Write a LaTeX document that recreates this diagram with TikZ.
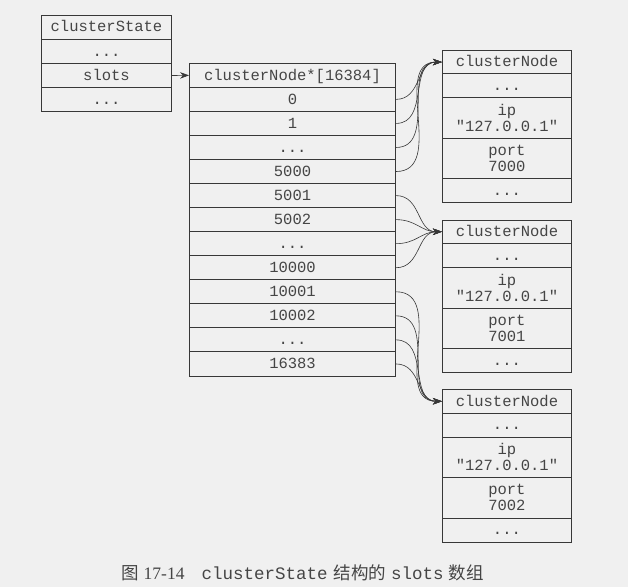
\documentclass[tikz,border=0pt]{standalone}
\usepackage{fontspec}
\setmainfont{Liberation Serif}
\setmonofont{Liberation Mono}
\newfontfamily\cjk{Noto Sans CJK SC}
\usetikzlibrary{arrows.meta}
\definecolor{bg}{HTML}{F0F0F0}
\definecolor{ink}{HTML}{383838}
\definecolor{txt}{HTML}{454545}
\newcommand\mydots{...}
\begin{document}
\begin{tikzpicture}[x=1pt,y=-1pt,
  cell/.style={draw=ink, line width=0.9pt, fill=bg, inner sep=0pt, text=txt,
    font=\ttfamily\fontsize{15.5}{16}\selectfont, align=center},
  one/.style={text height=10.8pt, text depth=1.2pt},
  st/.style={cell, one, minimum width=130pt, minimum height=24.2pt},
  arr/.style={cell, one, minimum width=206pt, minimum height=24.05pt},
  cn/.style={cell, minimum width=129.2pt},
  conn/.style={draw=ink, line width=0.6pt, -{Stealth[length=9pt,width=6.5pt]}}]
\fill[bg] (0,0) rectangle (628,587);
\useasboundingbox (0,0) rectangle (628,587);
% clusterState
\node[st] (s0) at (106.5,27.1) {clusterState};
\node[st] (s1) at (106.5,51.3) {\mydots};
\node[st] (s2) at (106.5,75.5) {slots};
\node[st] (s3) at (106.5,99.7) {\mydots};
% slots array
\foreach \i/\lab in {0/{clusterNode*[16384]},1/0,2/1,3/\mydots,4/5000,5/5001,6/5002,7/\mydots,8/10000,9/10001,10/10002,11/\mydots,12/16383}{
  \node[arr] (a\i) at (292.5,{63.3+12.025+24.05*\i}) {\lab};
}
\draw[conn] (s2.east) -- (a0.west);
% clusterNode boxes
\foreach \k/\t/\p in {1/50.3/7000,2/220/7001,3/389.5/7002}{
  \node[cn, one, minimum height=23.5pt] (h\k) at (506.9,\t+11.75) {clusterNode};
  \node[cn, one, minimum height=24pt] (d\k) at (506.9,\t+35.5) {\mydots};
  \node[cn, minimum height=40.5pt] (ip\k) at (506.9,\t+67.75) {ip\\"127.0.0.1"};
  \node[cn, minimum height=40.5pt] (pt\k) at (506.9,\t+108.25) {port\\\p};
  \node[cn, one, minimum height=24pt] (e\k) at (506.9,\t+140.5) {\mydots};
}
% pointers
\foreach \i in {1,2,3,4} \draw[conn] (a\i.east) to[out=0,in=180,looseness=1.1] (h1.west);
\foreach \i in {5,6,7,8} \draw[conn] (a\i.east) to[out=0,in=180,looseness=1.1] (h2.west);
\foreach \i in {9,10,11,12} \draw[conn] (a\i.east) to[out=0,in=180,looseness=1.1] (h3.west);
% caption
\node[anchor=west, inner sep=0pt, text=txt] (cap) at (121,573)
  {{\cjk\fontsize{17.5}{18}\selectfont 图}\hspace{5pt}{\fontsize{17.5}{18}\selectfont 17-14}\hspace{17pt}{\ttfamily\fontsize{17.5}{18}\selectfont clusterState}\hspace{6pt}{\cjk\fontsize{17.5}{18}\selectfont 结构的}\hspace{5pt}{\ttfamily\fontsize{17.5}{18}\selectfont slots}\hspace{5pt}{\cjk\fontsize{17.5}{18}\selectfont 数组}};
\end{tikzpicture}
\end{document}
